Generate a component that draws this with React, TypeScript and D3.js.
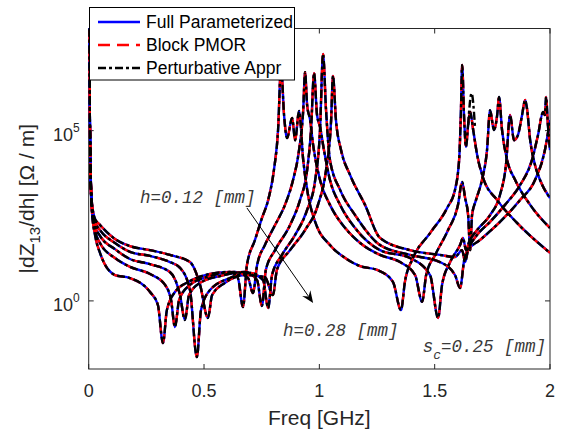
import React from 'react';
import * as d3 from 'd3';

// frequency [GHz] and log10 |dZ13/dh|, one pair per h
const h012Freq = [0, 0.0035, 0.0078, 0.0143, 0.0273, 0.049, 0.114, 0.179, 0.266, 0.300, 0.322, 0.339, 0.374, 0.439, 0.526, 0.612, 0.647, 0.669, 0.686, 0.721, 0.751, 0.778, 0.803, 0.821, 0.834, 0.847, 0.860, 0.882, 0.895, 0.912, 0.930, 0.951, 0.982, 1.046, 1.112, 1.177, 1.250, 1.319, 1.354, 1.371, 1.406, 1.480, 1.554, 1.588, 1.606, 1.614, 1.619, 1.628, 1.636, 1.645, 1.654, 1.667, 1.684, 1.710, 1.771, 1.857, 2.0];
const h012Log = [8.5, 6.04, 3.70, 2.61, 1.94, 1.41, 0.76, 0.67, 0.26, -0.12, -1.24, -0.27, 0.26, 0.58, 0.79, 0.85, 0.67, -0.18, 1.05, 1.79, 2.43, 2.96, 3.84, 5.02, 6.9, 5.46, 4.78, 5.37, 4.72, 5.58, 4.14, 3.11, 2.32, 1.64, 1.26, 1.02, 0.91, 0.56, -0.27, 0.56, 1.26, 1.99, 2.73, 3.26, 4.14, 5.61, 6.93, 5.31, 4.52, 5.17, 5.55, 5.02, 4.29, 3.61, 2.96, 2.29, 1.41];

const h016Freq = [0, 0.0035, 0.0078, 0.0143, 0.0273, 0.049, 0.114, 0.179, 0.266, 0.331, 0.357, 0.374, 0.392, 0.439, 0.526, 0.635, 0.691, 0.712, 0.730, 0.764, 0.808, 0.851, 0.886, 0.912, 0.930, 0.938, 0.947, 0.960, 0.973, 1.003, 1.046, 1.112, 1.177, 1.263, 1.350, 1.415, 1.446, 1.463, 1.502, 1.558, 1.601, 1.619, 1.632, 1.645, 1.654, 1.662, 1.679, 1.705, 1.727, 1.740, 1.757, 1.771, 1.779, 1.792, 1.814, 1.849, 1.914, 2.0];
const h016Log = [8.5, 6.13, 3.79, 2.67, 2.08, 1.70, 1.26, 1.00, 0.79, 0.47, 0.03, -0.77, 0.03, 0.47, 0.73, 0.85, 0.67, 0.23, 1.05, 1.64, 2.23, 2.82, 3.55, 4.43, 5.60, 6.72, 5.75, 5.31, 4.58, 3.55, 2.82, 2.14, 1.70, 1.35, 1.14, 0.76, -0.03, 0.76, 1.35, 2.08, 2.82, 3.49, 3.02, 2.52, 1.49, 2.52, 2.96, 3.55, 4.43, 5.60, 5.02, 5.46, 5.99, 5.02, 4.14, 3.55, 2.82, 2.14];

const h020Freq = [0, 0.0035, 0.0078, 0.0143, 0.0273, 0.049, 0.114, 0.179, 0.266, 0.352, 0.396, 0.417, 0.435, 0.483, 0.569, 0.678, 0.730, 0.751, 0.768, 0.808, 0.873, 0.916, 0.947, 0.964, 0.977, 0.990, 1.003, 1.020, 1.046, 1.090, 1.155, 1.263, 1.393, 1.480, 1.515, 1.532, 1.567, 1.610, 1.623, 1.636, 1.649, 1.684, 1.740, 1.783, 1.809, 1.827, 1.844, 1.861, 1.879, 1.892, 1.900, 1.914, 1.935, 1.957, 2.0];
const h020Log = [8.5, 6.19, 3.84, 2.73, 2.20, 1.91, 1.52, 1.23, 1.08, 0.85, 0.17, -0.56, 0.17, 0.53, 0.73, 0.85, 0.61, -0.15, 0.91, 1.49, 2.23, 2.96, 3.84, 5.02, 6.69, 5.46, 5.11, 4.43, 3.55, 2.82, 2.14, 1.49, 1.26, 0.76, -0.50, 0.47, 1.14, 1.64, 1.85, 1.49, 1.73, 2.08, 2.52, 3.11, 3.99, 5.46, 4.72, 4.87, 5.46, 5.90, 5.66, 4.72, 3.99, 3.55, 3.02];

const h024Freq = [0, 0.0035, 0.0078, 0.0143, 0.0273, 0.049, 0.114, 0.179, 0.266, 0.352, 0.396, 0.439, 0.469, 0.487, 0.526, 0.612, 0.699, 0.756, 0.778, 0.795, 0.838, 0.895, 0.947, 0.982, 1.003, 1.016, 1.029, 1.046, 1.090, 1.155, 1.263, 1.393, 1.523, 1.588, 1.610, 1.628, 1.654, 1.684, 1.740, 1.805, 1.870, 1.922, 1.948, 1.970, 1.978, 1.983, 1.991, 2.0];
const h024Log = [8.5, 6.25, 3.90, 2.79, 2.32, 2.08, 1.70, 1.44, 1.32, 1.14, 0.97, 0.32, -1.65, -0.27, 0.32, 0.67, 0.82, 0.61, -0.21, 0.76, 1.35, 1.94, 2.67, 3.55, 5.02, 7.25, 5.60, 4.14, 3.26, 2.52, 1.64, 1.35, 1.14, 0.76, 0.38, 1.20, 1.64, 1.94, 2.32, 2.82, 3.40, 4.14, 4.87, 5.55, 5.46, 5.99, 5.16, 4.43];

const h028Freq = [0, 0.0035, 0.0078, 0.0143, 0.0273, 0.049, 0.114, 0.179, 0.266, 0.352, 0.439, 0.483, 0.517, 0.535, 0.591, 0.678, 0.764, 0.799, 0.816, 0.873, 0.938, 0.994, 1.029, 1.051, 1.059, 1.072, 1.094, 1.133, 1.198, 1.263, 1.393, 1.523, 1.588, 1.619, 1.632, 1.645, 1.697, 1.783, 1.870, 1.935, 1.978, 2.0];
const h028Log = [8.5, 6.31, 3.96, 2.85, 2.41, 2.23, 1.82, 1.61, 1.49, 1.35, 1.14, 0.47, -0.50, 0.17, 0.53, 0.76, 0.70, 0.17, 0.91, 1.49, 2.08, 2.82, 3.84, 5.31, 6.61, 5.31, 4.43, 3.70, 2.82, 1.85, 1.49, 1.35, 1.29, 1.49, 1.14, 1.49, 1.79, 2.32, 2.96, 3.55, 4.43, 5.31];

// where the perturbative approximation overshoots on h=0.12
const apprSpikeFreq = [1.645, 1.660, 1.675];
const apprSpikeLog = [5.17, 6.1, 5.08];

const curves = [
  [h012Freq, h012Log],
  [h016Freq, h016Log],
  [h020Freq, h020Log],
  [h024Freq, h024Log],
  [h028Freq, h028Log],
];

const xTicks = [0, 0.5, 1, 1.5, 2];
const yTickExps = [0, 5];
const legendLabels = ['Full Parameterized', 'Block PMOR', 'Perturbative Appr'];

const W = 563, H = 436;
const m = { left: 88.7, right: 550, top: 28.5, bottom: 369 };
const axisColor = '#262626';
const font = '"Liberation Sans", Arial, Helvetica, sans-serif';
const mono = '"Liberation Mono", "Courier New", monospace';

const styles = [
  { stroke: '#0000ff', dash: null },
  { stroke: '#ff0000', dash: '12,7' },
  { stroke: '#000000', dash: '8,3,3,3' },
];

export default function App() {
  const x = d3.scaleLinear().domain([0, 2]).range([m.left, m.right]);
  const y = d3.scaleLog().domain([1e-2, 1e8]).range([m.bottom, m.top]);

  const line = d3.line<[number, number]>()
    .x(d => x(d[0]))
    .y(d => y(Math.pow(10, d[1])))
    .curve(d3.curveMonotoneX);

  const paths = curves.map(([fs, ls]) => line(fs.map((f, i) => [f, ls[i]] as [number, number])) || '');
  const spike = line(apprSpikeFreq.map((f, i) => [f, apprSpikeLog[i]] as [number, number])) || '';

  // arrow from h=0.12 label towards h=0.28
  const ax0 = x(0.686), ay0 = y(Math.pow(10, 2.73));
  const ax1 = x(0.973), ay1 = y(Math.pow(10, -0.06));
  const len = Math.hypot(ax1 - ax0, ay1 - ay0);
  const ux = (ax1 - ax0) / len, uy = (ay1 - ay0) / len;
  const nx = -uy, ny = ux;
  const head = [
    [ax1, ay1],
    [ax1 - 12 * ux + 5 * nx, ay1 - 12 * uy + 5 * ny],
    [ax1 - 8 * ux, ay1 - 8 * uy],
    [ax1 - 12 * ux - 5 * nx, ay1 - 12 * uy - 5 * ny],
  ].map(p => p.join(',')).join(' ');

  const midY = (m.top + m.bottom) / 2;

  return (
    <svg width={W} height={H} style={{ position: 'absolute', left: 0, top: 0, background: '#fff' }}>
      <defs>
        <clipPath id="plot-clip">
          <rect x={m.left} y={m.top} width={m.right - m.left} height={m.bottom - m.top} />
        </clipPath>
      </defs>
      <rect x={0} y={0} width={W} height={H} fill="#fff" />

      {/* axes box + ticks */}
      <g stroke={axisColor} strokeWidth={1} fill="none">
        <rect x={m.left} y={m.top} width={m.right - m.left} height={m.bottom - m.top} />
        {xTicks.map(t => (
          <g key={'xt' + t}>
            <line x1={x(t)} x2={x(t)} y1={m.bottom} y2={m.bottom - 5} />
            <line x1={x(t)} x2={x(t)} y1={m.top} y2={m.top + 5} />
          </g>
        ))}
        {yTickExps.map(e => (
          <g key={'yt' + e}>
            <line x1={m.left} x2={m.left + 5} y1={y(Math.pow(10, e))} y2={y(Math.pow(10, e))} />
            <line x1={m.right} x2={m.right - 5} y1={y(Math.pow(10, e))} y2={y(Math.pow(10, e))} />
          </g>
        ))}
      </g>

      <g fontFamily={font} fill={axisColor}>
        {xTicks.map(t => (
          <text key={'xl' + t} x={x(t)} y={m.bottom + 28} fontSize={18} textAnchor="middle">{String(t)}</text>
        ))}
        {yTickExps.map(e => (
          <text key={'yl' + e} x={m.left - 9} y={y(Math.pow(10, e)) + 10} fontSize={18} textAnchor="end">
            10<tspan fontSize={12} dy={-9}>{e}</tspan>
          </text>
        ))}
        <text x={(m.left + m.right) / 2} y={425} fontSize={21} textAnchor="middle">Freq [GHz]</text>
        <text transform={`translate(34,${midY}) rotate(-90)`} fontSize={21} textAnchor="middle">
          |dZ<tspan fontSize={15} dy={6}>13</tspan><tspan dy={-6}>/dh| [Ω / m]</tspan>
        </text>
      </g>

      {/* curves */}
      <g clipPath="url(#plot-clip)" fill="none" strokeWidth={2.4}>
        {styles.map((s, si) => (
          <g key={'s' + si} stroke={s.stroke} strokeDasharray={s.dash || undefined}>
            {paths.map((d, ci) => <path key={ci} d={d} />)}
            {si === 2 && <path d={spike} />}
          </g>
        ))}
      </g>

      {/* annotations */}
      <g fontFamily={mono} fontStyle="italic" fontSize={17.5} fill="#3a3a3a">
        <text x={x(0.222)} y={y(Math.pow(10, 2.88))}>h=0.12 [mm]</text>
        <text x={x(0.842)} y={y(Math.pow(10, -1.03))}>h=0.28 [mm]</text>
        <text x={x(1.983)} y={y(Math.pow(10, -1.5))} textAnchor="end">
          s<tspan fontSize={13} dy={7}>c</tspan><tspan dy={-7}>=0.25 [mm]</tspan>
        </text>
      </g>
      <line x1={ax0} y1={ay0} x2={ax1 - 8 * ux} y2={ay1 - 8 * uy} stroke="#000" strokeWidth={1} />
      <polygon points={head} fill="#000" />

      {/* legend */}
      <g>
        <rect x={89.5} y={7.5} width={205} height={72.5} fill="#fff" stroke="#000" strokeWidth={1} />
        {legendLabels.map((lab, i) => (
          <g key={lab} transform={`translate(0,${22 + i * 23})`}>
            <line x1={98} x2={140} y1={0} y2={0} stroke={styles[i].stroke} strokeWidth={2.4}
              strokeDasharray={styles[i].dash || undefined} />
            <text x={146} y={6} fontFamily={font} fontSize={17.5} fill="#000">{lab}</text>
          </g>
        ))}
      </g>
    </svg>
  );
}
